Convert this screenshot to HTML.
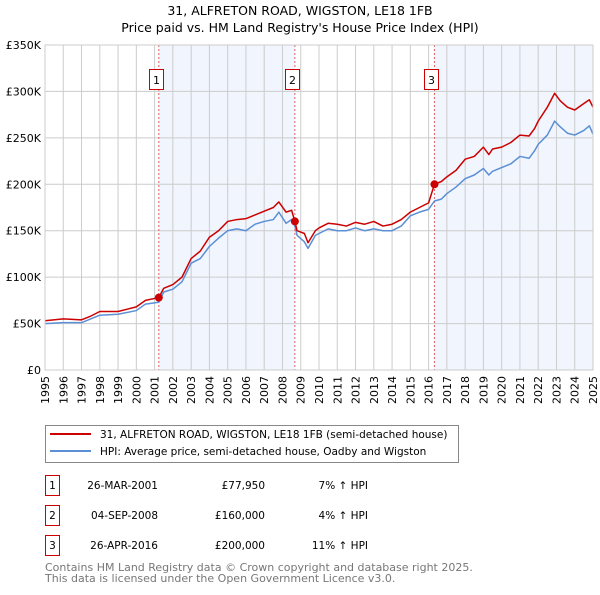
<!DOCTYPE html>
<html><head><meta charset="utf-8"><style>
body{margin:0;background:#fff;font-family:"Liberation Sans","DejaVu Sans",sans-serif;}
svg text{font-family:"DejaVu Sans","Liberation Sans",sans-serif;}
</style></head><body>
<svg id="c" width="600" height="590" xmlns="http://www.w3.org/2000/svg">
<text x="300" y="15" font-size="12.5" text-anchor="middle">31, ALFRETON ROAD, WIGSTON, LE18 1FB</text>
<text x="300" y="32" font-size="12.5" text-anchor="middle">Price paid vs. HM Land Registry's House Price Index (HPI)</text>
<g id="plot"></g>
<g>
<rect x="45.5" y="425.5" width="413" height="37" fill="#fff" stroke="#888"/>
<line x1="50" y1="434" x2="91" y2="434" stroke="#cc0000" stroke-width="2"/>
<text x="100" y="438" font-size="10.5">31, ALFRETON ROAD, WIGSTON, LE18 1FB (semi-detached house)</text>
<line x1="50" y1="451" x2="91" y2="451" stroke="#5b8fd6" stroke-width="2"/>
<text x="100" y="455" font-size="10.5">HPI: Average price, semi-detached house, Oadby and Wigston</text>
</g>
<g font-size="10.5">
<rect x="45.5" y="475.5" width="14" height="20" fill="#fff" stroke="#cc0000"/><text x="52.5" y="489" text-anchor="middle">1</text>
<text x="158" y="489" text-anchor="end">26-MAR-2001</text><text x="265" y="489" text-anchor="end">£77,950</text><text x="368" y="489" text-anchor="end">7% ↑ HPI</text>
<rect x="45.5" y="505.5" width="14" height="20" fill="#fff" stroke="#cc0000"/><text x="52.5" y="519" text-anchor="middle">2</text>
<text x="158" y="519" text-anchor="end">04-SEP-2008</text><text x="265" y="519" text-anchor="end">£160,000</text><text x="368" y="519" text-anchor="end">4% ↑ HPI</text>
<rect x="45.5" y="535.5" width="14" height="20" fill="#fff" stroke="#cc0000"/><text x="52.5" y="549" text-anchor="middle">3</text>
<text x="158" y="549" text-anchor="end">26-APR-2016</text><text x="265" y="549" text-anchor="end">£200,000</text><text x="368" y="549" text-anchor="end">11% ↑ HPI</text>
</g>
<text x="45" y="571" font-size="11" fill="#777">Contains HM Land Registry data © Crown copyright and database right 2025.</text>
<text x="45" y="582" font-size="11" fill="#777">This data is licensed under the Open Government Licence v3.0.</text>
</svg>
<script>
const years=[1995,1996,1997,1997.5,1998,1999,2000,2000.5,2001.23,2001.5,2002,2002.5,2003,2003.5,2004,2004.5,2005,2005.5,2006,2006.5,2007,2007.5,2007.8,2008.2,2008.5,2008.68,2008.8,2009.2,2009.4,2009.8,2010,2010.5,2011,2011.5,2012,2012.5,2013,2013.5,2014,2014.5,2015,2015.5,2016,2016.32,2016.7,2017,2017.5,2018,2018.5,2019,2019.3,2019.5,2020,2020.5,2021,2021.5,2021.8,2022,2022.5,2022.9,2023.2,2023.6,2024,2024.5,2024.8,2025];
const priceK=[53,55,54,58,63,63,68,75,78,88,92,100,120,128,143,150,160,162,163,167,171,175,181,170,172,160,150,147,137,150,153,158,157,155,159,157,160,155,157,162,170,175,180,200,203,208,215,227,230,240,232,238,240,245,253,252,260,268,283,298,290,283,280,287,291,283];
const hpiK=[50,51,51,55,59,60,64,71,73,84,87,95,115,120,133,142,150,152,150,157,160,162,170,158,162,155,145,138,131,145,147,152,150,150,153,150,152,150,150,155,166,170,173,182,184,190,197,206,210,217,210,214,218,222,230,228,236,243,253,268,262,255,253,258,263,254];
const saleYears=[2001.23,2008.68,2016.32];
const saleK=[77.95,160,200];
const saleLabels=["1","2","3"];
const yTicks=[0,50,100,150,200,250,300,350];
const yTickLabels=["£0","£50K","£100K","£150K","£200K","£250K","£300K","£350K"];
const xTicks=[1995,1996,1997,1998,1999,2000,2001,2002,2003,2004,2005,2006,2007,2008,2009,2010,2011,2012,2013,2014,2015,2016,2017,2018,2019,2020,2021,2022,2023,2024,2025];

const L=45,R=593,T=45,B=370,NS="http://www.w3.org/2000/svg";
const X=v=>L+(v-1995)/30*(R-L);
const Y=v=>B-v/350*(B-T);
const g=document.getElementById('plot');
function mk(t,a,p){const e=document.createElementNS(NS,t);for(const k in a)e.setAttribute(k,a[k]);(p||g).appendChild(e);return e;}
[[saleYears[0],saleYears[1]],[saleYears[2],2025]].forEach(s=>{
 const r=mk('rect',{x:X(s[0]),y:T,width:X(s[1])-X(s[0]),height:B-T,fill:'#eef3fc',opacity:0.8});
 
 
});
xTicks.forEach(v=>{
 mk('line',{x1:X(v),x2:X(v),y1:T,y2:B,stroke:'#ccc','stroke-width':1});
 const t=mk('text',{x:0,y:0,'font-size':11,'text-anchor':'end',transform:`translate(${X(v)+4},${B+6}) rotate(-90)`});
 t.textContent=v;
 
 
});
yTicks.forEach((v,i)=>{
 mk('line',{x1:L,x2:R,y1:Y(v),y2:Y(v),stroke:'#ccc','stroke-width':1});
 const t=mk('text',{x:L-4,y:Y(v)+4,'font-size':11,'text-anchor':'end'});
 t.textContent=yTickLabels[i];
 
 
});
saleYears.forEach((v,i)=>{
 mk('line',{x1:X(v),x2:X(v),y1:T,y2:B,stroke:'#e06060','stroke-width':1,'stroke-dasharray':'2,2'});
 const b=mk('rect',{x:Math.round(X(v))-9.5,y:69.5,width:14,height:20,fill:'#fff',stroke:'#cc0000'});
 
 
 const t=mk('text',{x:Math.round(X(v))-2.5,y:84,'font-size':11,'text-anchor':'middle'});
 t.textContent=saleLabels[i];
});
const line=(arr,c,n)=>{const p=mk('polyline',{points:years.map((y,i)=>X(y)+','+Y(arr[i])).join(' '),fill:'none',stroke:c,'stroke-width':1.5,'stroke-linejoin':'round'});
 
 };
line(hpiK,'#5b8fd6','hpi-line');
line(priceK,'#cc0000','property-price-line');
saleYears.forEach((v,i)=>{
 const c=mk('circle',{cx:X(v),cy:Y(saleK[i]),r:4,fill:'#cc0000'});
 
 
});
mk('rect',{x:L,y:T,width:R-L,height:B-T,fill:'none',stroke:'#ccc'});
</script>
</body></html>
